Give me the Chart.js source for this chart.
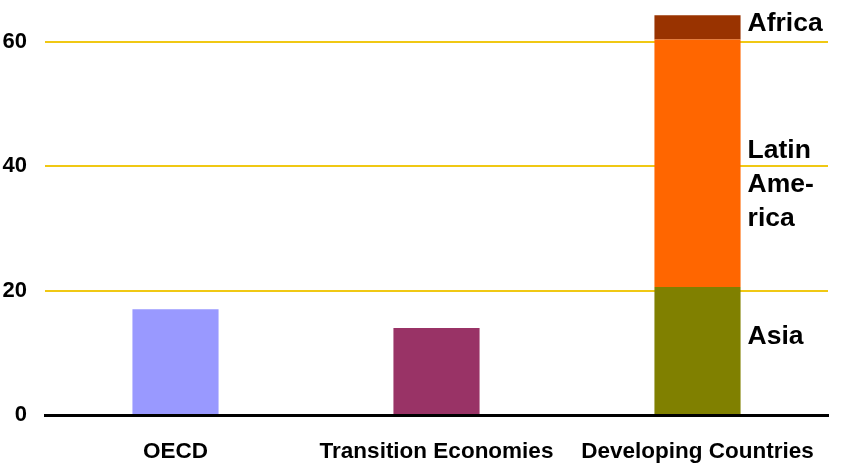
<!DOCTYPE html>
<html>
<head>
<meta charset="utf-8">
<script src="https://cdn.jsdelivr.net/npm/chart.js@4"></script>
<style>
html,body{margin:0;padding:0;background:#fff;}
#wrap{width:842px;height:476px;position:relative;}
</style>
</head>
<body>
<div id="wrap"><canvas id="c" width="842" height="476"></canvas></div>
<script>
const categories = ["OECD", "Transition Economies", "Developing Countries"];
const oecd = [17, null, null];
const transition = [null, 14, null];
const asia = [null, null, 20.6];
const latinAmerica = [null, null, 39.8];
const africa = [null, null, 3.9];
const yTicks = [0, 20, 40, 60];

const FONT = "'Liberation Sans', Arial, Helvetica, sans-serif";

const segLabels = {
  id: 'segLabels',
  afterDatasetsDraw(chart) {
    const ctx = chart.ctx;
    ctx.save();
    ctx.fillStyle = '#000';
    ctx.font = 'bold 26.5px ' + FONT;
    ctx.textBaseline = 'middle';
    ctx.textAlign = 'left';
    const items = [
      {ds: 4, lines: ['Africa'], dy: -4},
      {ds: 3, lines: ['Latin', 'Ame-', 'rica'], dy: 21},
      {ds: 2, lines: ['Asia'], dy: -14}
    ];
    items.forEach(it => {
      const bar = chart.getDatasetMeta(it.ds).data[2];
      const x = bar.x + bar.width / 2 + 7;
      const cy = (bar.y + bar.base) / 2 + it.dy;
      const lh = 34;
      const start = cy - (it.lines.length - 1) * lh / 2;
      it.lines.forEach((l, i) => ctx.fillText(l, x, start + i * lh));
    });
    ctx.restore();
  }
};

new Chart(document.getElementById('c'), {
  type: 'bar',
  data: {
    labels: categories,
    datasets: [
      {label: 'OECD', data: oecd, backgroundColor: '#9999ff'},
      {label: 'Transition Economies', data: transition, backgroundColor: '#993366'},
      {label: 'Asia', data: asia, backgroundColor: '#808000'},
      {label: 'Latin America', data: latinAmerica, backgroundColor: '#ff6600'},
      {label: 'Africa', data: africa, backgroundColor: '#993300'}
    ]
  },
  options: {
    responsive: false,
    animation: false,
    layout: {padding: {left: 0, right: 14, top: 0, bottom: 0}},
    datasets: {bar: {categoryPercentage: 1, barPercentage: 0.33}},
    plugins: {legend: {display: false}, tooltip: {enabled: false}},
    scales: {
      x: {
        stacked: true,
        grid: {display: false, drawTicks: false},
        border: {display: true, color: '#000', width: 3},
        ticks: {color: '#000', font: {family: FONT, size: 22.5, weight: 'bold'}, padding: 23, maxRotation: 0, autoSkip: false},
        afterFit(s) { s.height = 61; s.paddingLeft = 0; s.paddingRight = 0; }
      },
      y: {
        stacked: true,
        min: 0,
        max: 66.75,
        afterBuildTicks(s) { s.ticks = yTicks.map(v => ({value: v})); },
        grid: {
          drawTicks: false,
          color: c => c.tick && c.tick.value === 0 ? 'rgba(0,0,0,0)' : '#f0c814',
          lineWidth: 2
        },
        border: {display: false},
        ticks: {color: '#000', font: {family: FONT, size: 22, weight: 'bold'}, padding: 18},
        afterFit(s) { s.width = 45; s.paddingTop = 0; s.paddingBottom = 0; }
      }
    }
  },
  plugins: [segLabels]
});
</script>
</body>
</html>
